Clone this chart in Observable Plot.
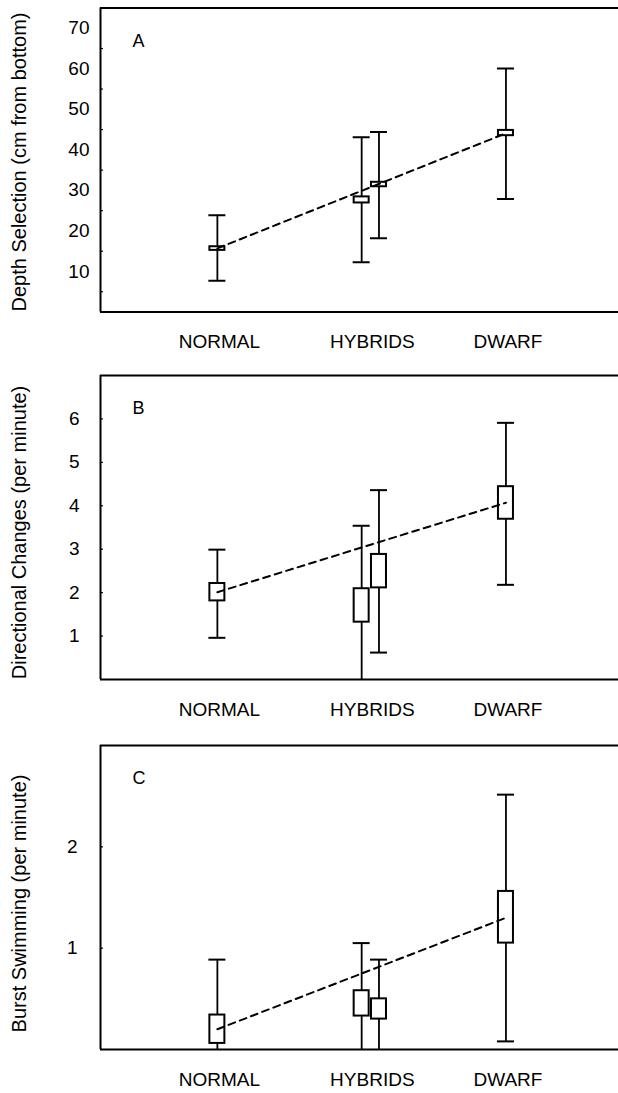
<!DOCTYPE html>
<html>
<head>
<meta charset="utf-8">
<script src="https://cdn.jsdelivr.net/npm/d3@7"></script>
<script src="https://cdn.jsdelivr.net/npm/@observablehq/plot@0.6"></script>
<style>
  html, body { margin: 0; padding: 0; background: #fff; }
  #chart svg { display: block; }
</style>
</head>
<body>
<div id="chart"></div>
<script>
// ---- data ----
const series = ["Normal", "Hybrid 1", "Hybrid 2", "Dwarf"];
const seriesGroup = ["NORMAL", "HYBRIDS", "HYBRIDS", "DWARF"];
const groups = ["NORMAL", "HYBRIDS", "DWARF"];
const subIndex = [0, 0, 1, 0];

// A: Depth selection (cm from bottom)
const depthMean  = [15.7, 27.6, 31.4, 44.1];
const depthBoxLo = [15.2, 26.9, 30.9, 43.5];
const depthBoxHi = [16.1, 28.4, 32.0, 44.8];
const depthLo    = [7.7, 12.3, 18.2, 27.9];
const depthHi    = [23.9, 43.1, 44.4, 60.1];
const depthTicks = [10, 20, 30, 40, 50, 60, 70];
const depthMinor = [5, 15, 25, 35, 45, 55, 65];

// B: Directional changes (per minute)
const dirMean  = [2.01, 1.70, 2.50, 4.07];
const dirBoxLo = [1.81, 1.32, 2.11, 3.69];
const dirBoxHi = [2.21, 2.09, 2.88, 4.44];
const dirLo    = [0.96, -0.13, 0.62, 2.18];
const dirHi    = [2.99, 3.54, 4.36, 5.91];
const dirTicks = [1, 2, 3, 4, 5, 6];

// C: Burst swimming (per minute)
const burstMean  = [0.20, 0.46, 0.40, 1.30];
const burstBoxLo = [0.06, 0.33, 0.30, 1.05];
const burstBoxHi = [0.34, 0.58, 0.50, 1.56];
const burstLo    = [-0.48, -0.13, -0.09, 0.08];
const burstHi    = [0.887, 1.05, 0.887, 2.515];
const burstTicks = [1, 2];

// ---- layout / style ----
const FONT = "'Liberation Sans', Arial, Helvetica, sans-serif";
const HYB_OFFSET = 0.12;
const X0 = 0.19, X1 = 3.78;

function rowsOf(mean, boxLo, boxHi, lo, hi) {
  return series.map((s, i) => ({
    series: s,
    x: groups.indexOf(seriesGroup[i]) + 1 + subIndex[i] * HYB_OFFSET,
    mean: mean[i], boxLo: boxLo[i], boxHi: boxHi[i], lo: lo[i], hi: hi[i]
  }));
}

function groupPos(rows) {
  return groups.map(g => {
    const xs = rows.filter((r, i) => seriesGroup[i] === g).map(r => r.x);
    return {name: g, x: d3.mean(xs)};
  });
}

function panel(cfg) {
  const rows = rowsOf(cfg.mean, cfg.boxLo, cfg.boxHi, cfg.lo, cfg.hi);
  const ends = [rows[0], rows[rows.length - 1]];
  const gp = groupPos(rows);
  return Plot.plot({
    width: 618,
    height: cfg.height,
    marginLeft: 100,
    marginRight: 0,
    marginTop: cfg.mt,
    marginBottom: cfg.mb,
    style: {fontFamily: FONT, background: "white", color: "black"},
    x: {domain: [X0, X1], axis: null},
    y: {domain: cfg.domain},
    marks: [
      Plot.axisY({ticks: cfg.ticks, tickFormat: d => String(d), tickSize: 0, tickPadding: cfg.pad,
                  fontSize: 19, label: null}),
      Plot.ruleY(cfg.tickMarks, {x1: X0, x2: X0, insetRight: -3, strokeWidth: 1.2}),
      Plot.ruleX(rows, {x: "x", y1: "lo", y2: "hi", strokeWidth: 1.8, clip: true}),
      Plot.ruleY(rows, {y: "hi", x1: "x", x2: "x", insetLeft: -8.5, insetRight: -8.5, strokeWidth: 2, clip: true}),
      Plot.ruleY(rows, {y: "lo", x1: "x", x2: "x", insetLeft: -8.5, insetRight: -8.5, strokeWidth: 2, clip: true}),
      Plot.rect(rows, {x1: "x", x2: "x", y1: "boxLo", y2: "boxHi", insetLeft: -7.5, insetRight: -7.5,
                       fill: "white", stroke: "black", strokeWidth: 2}),
      Plot.line(ends, {x: "x", y: "mean", stroke: "black", strokeWidth: 2, strokeDasharray: "7,5"}),
      Plot.ruleX([X0], {strokeWidth: 2}),
      Plot.ruleY(cfg.domain, {strokeWidth: 2}),
      Plot.text([cfg.letter], {frameAnchor: "top-left", textAnchor: "start", lineAnchor: "top",
                               dx: 32, dy: 26, fontSize: 18}),
      Plot.text([cfg.title], {frameAnchor: "left", rotate: -90, textAnchor: "middle", lineAnchor: "middle",
                              dx: -81, dy: cfg.titleDy, fontSize: 20}),
      Plot.text(gp, {x: "x", text: "name", frameAnchor: "bottom", lineAnchor: "middle",
                     textAnchor: "middle", dx: 2, dy: 30, fontSize: 19})
    ]
  });
}

const chart = document.getElementById("chart");
chart.append(panel({
  mean: depthMean, boxLo: depthBoxLo, boxHi: depthBoxHi, lo: depthLo, hi: depthHi,
  domain: [0, 75], ticks: depthTicks, tickMarks: depthMinor, pad: 11,
  letter: "A", title: "Depth Selection (cm from bottom)", titleDy: 2,
  height: 362, mt: 7.5, mb: 50.5
}));
chart.append(panel({
  mean: dirMean, boxLo: dirBoxLo, boxHi: dirBoxHi, lo: dirLo, hi: dirHi,
  domain: [0, 7], ticks: dirTicks, tickMarks: dirTicks, pad: 21,
  letter: "B", title: "Directional Changes (per minute)", titleDy: 5,
  height: 370, mt: 13, mb: 53
}));
chart.append(panel({
  mean: burstMean, boxLo: burstBoxLo, boxHi: burstBoxHi, lo: burstLo, hi: burstHi,
  domain: [0, 3], ticks: burstTicks, tickMarks: burstTicks, pad: 23,
  letter: "C", title: "Burst Swimming (per minute)", titleDy: 6,
  height: 361, mt: 13, mb: 44
}));
</script>
</body>
</html>
